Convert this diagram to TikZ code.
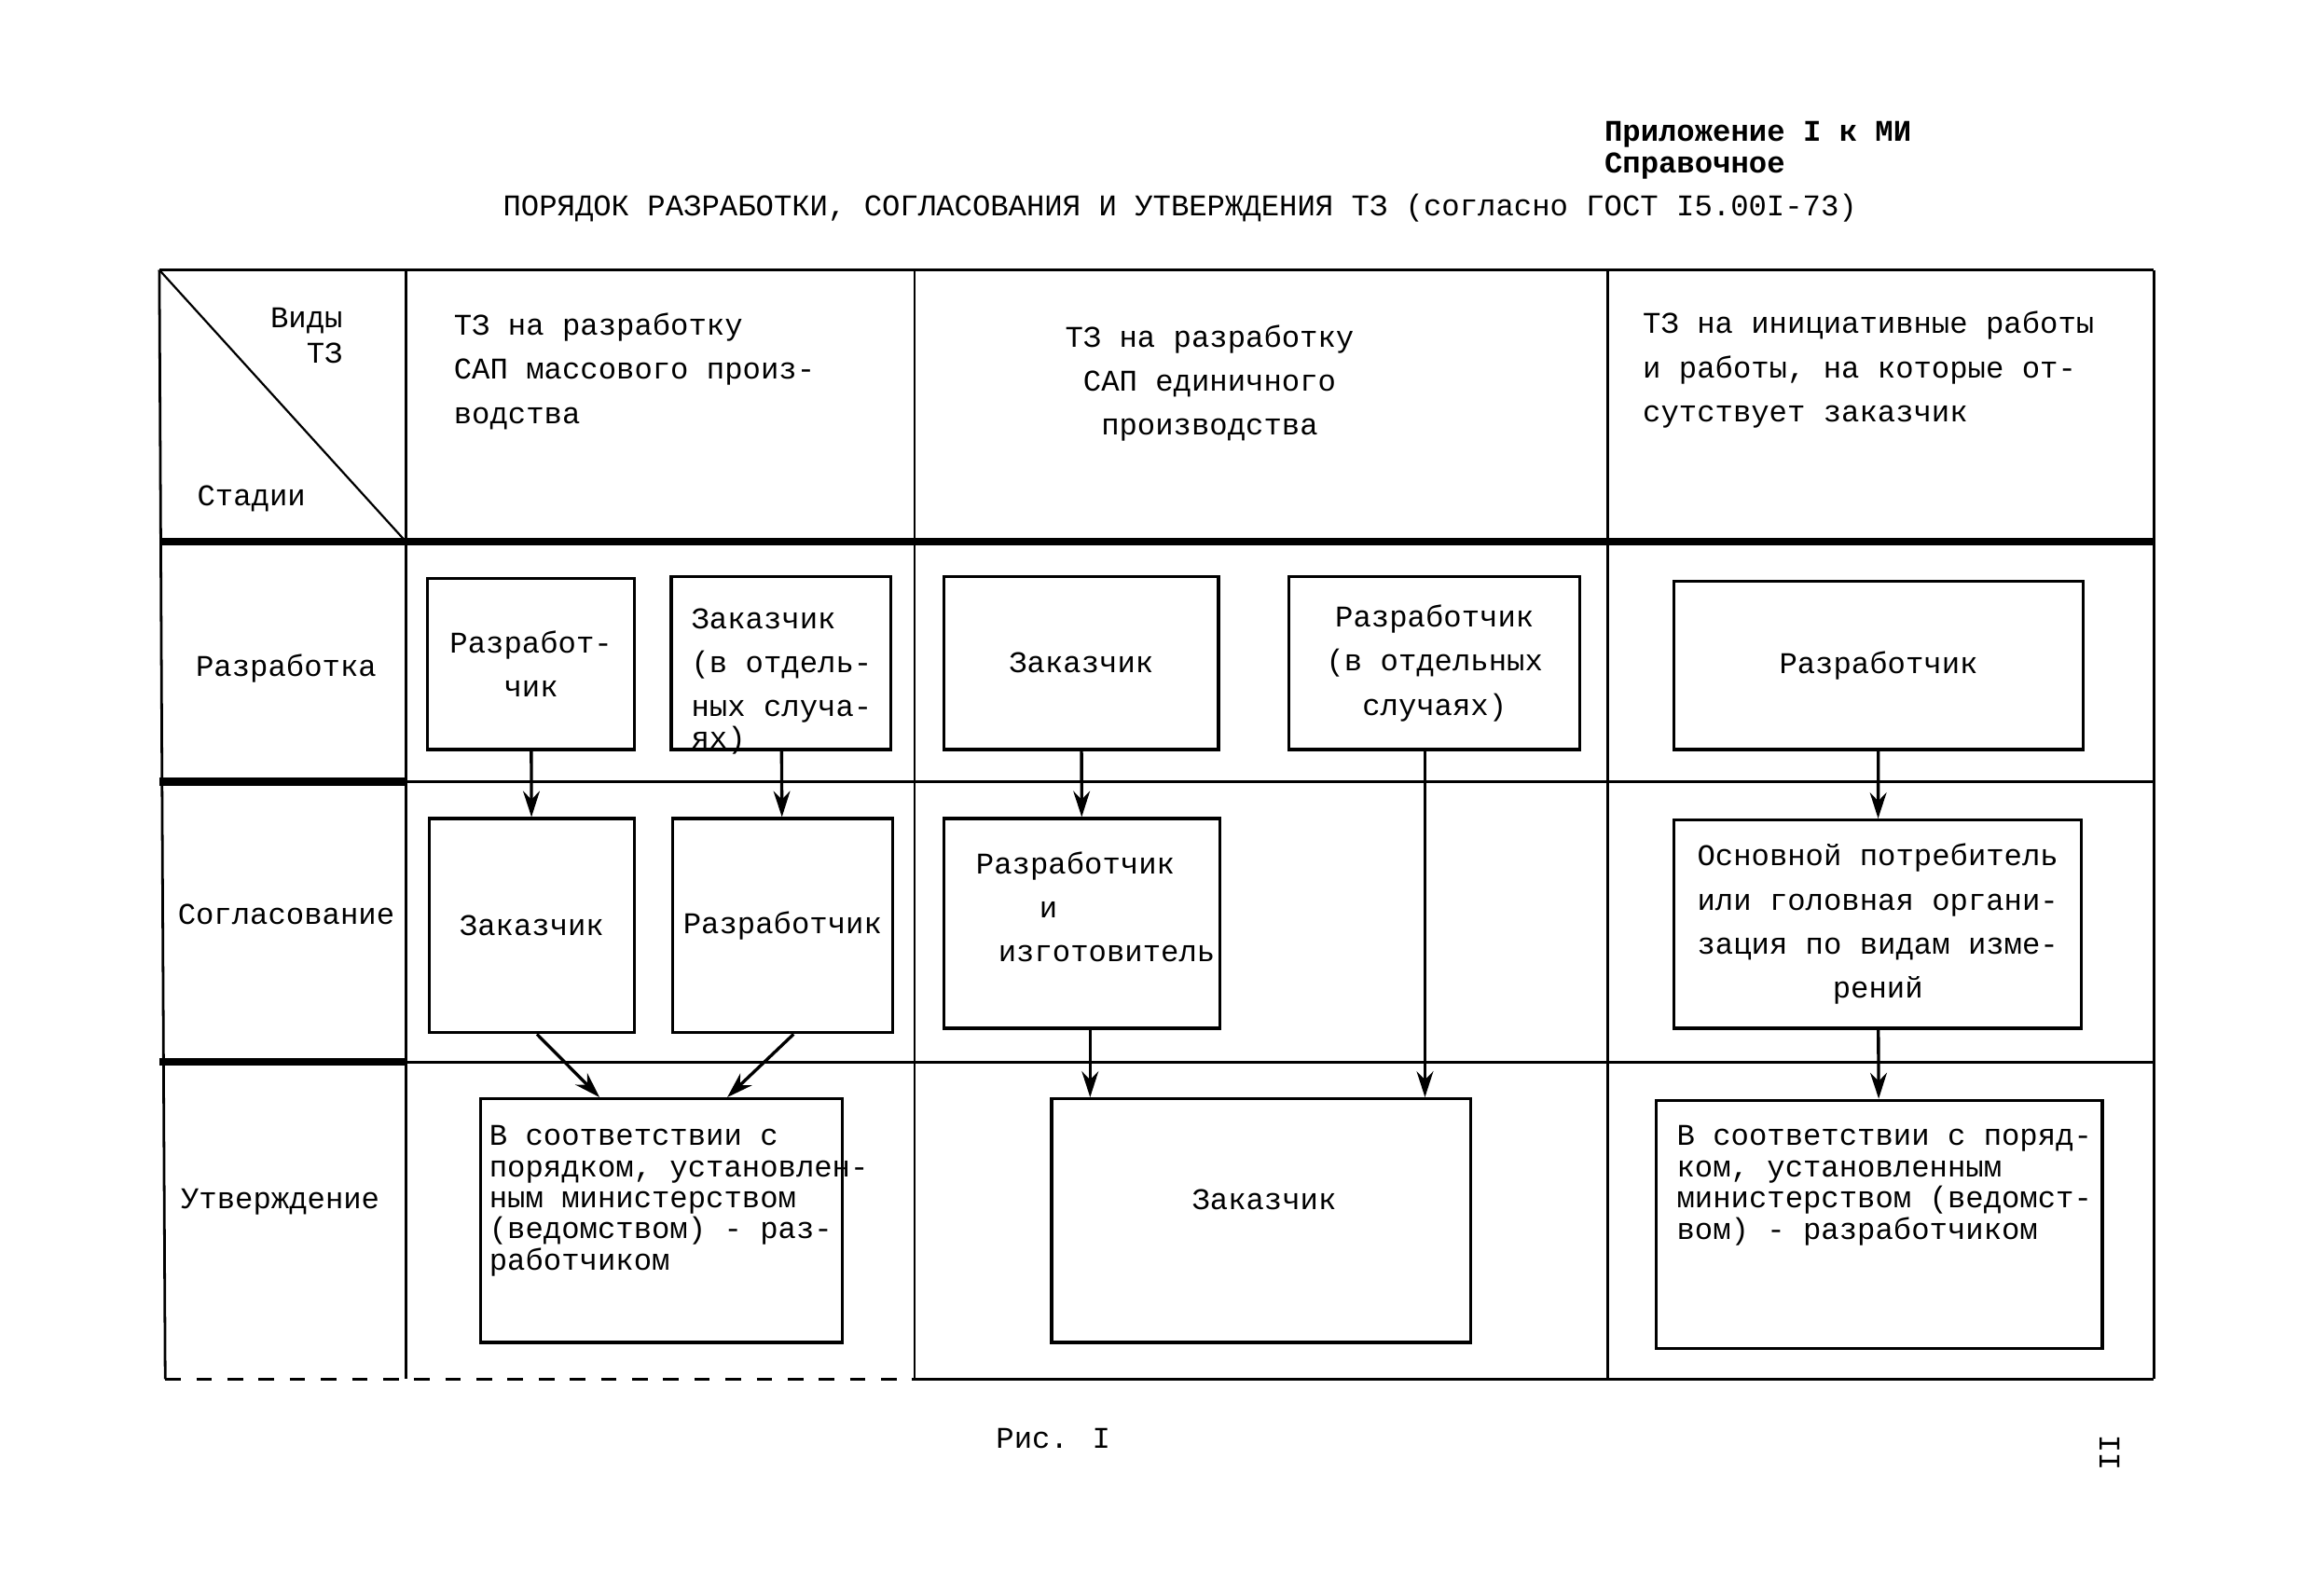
\documentclass[tikz,border=0pt]{standalone}
\usepackage{fontspec}
\setmainfont{Liberation Mono}
\usetikzlibrary{arrows.meta,calc}

\tikzset{
  ramka/.style={draw, line width=0.6pt, inner sep=0pt, align=center},
  tekst/.style={inner sep=0pt, align=left},
  strelka/.style={-{Stealth[length=5pt,width=3.2pt]}, line width=0.6pt},
  setka/.style={line width=0.5pt},
  zhir/.style={line width=1.5pt},
  plotno/.style={font=\fontsize{5.8pt}{6pt}\selectfont}
}

\begin{document}
\begin{tikzpicture}[x=0.01cm, y=-0.01cm, font=\fontsize{5.8pt}{8.5pt}\selectfont]
  \useasboundingbox (0,0) rectangle (1568,1082);

  % shapka
  \node[tekst, anchor=base west, font=\fontsize{5.8pt}{6pt}\selectfont\bfseries] (prilozh) at (1087,117) {Приложение I к МИ\\Справочное};
  \node[anchor=base, inner sep=0pt] (zagolovok) at (800,146) {ПОРЯДОК РАЗРАБОТКИ, СОГЛАСОВАНИЯ И УТВЕРЖДЕНИЯ ТЗ (согласно ГОСТ I5.00I-73)};

  % tablica
  \draw[setka] (108,183) -- (1460,183);
  \draw[setka] (108,183) -- (112,935);
  \draw[setka] (275,183) -- (275,935);
  \draw[setka] (620,183) -- (620,935);
  \draw[setka] (1090,183) -- (1090,935);
  \draw[setka] (1460,183) -- (1460,935);
  \draw[zhir] (108,367) -- (1460,367);
  \draw[zhir] (108,530) -- (275,530);
  \draw[setka] (275,530) -- (1460,530);
  \draw[zhir] (108,720) -- (275,720);
  \draw[setka] (275,720) -- (1460,720);
  \draw[setka, dashed] (112,935) -- (620,935);
  \draw[setka] (620,935) -- (1460,935);
  \draw[line width=0.4pt] (108,183) -- (275,367);

  % golovka
  \node[inner sep=0pt, align=right, anchor=base east] (vidy) at (233,246) {Виды\\[-1.7pt]ТЗ};
  \node[inner sep=0pt, anchor=base west] (stadii) at (133,343) {Стадии};
  \node[tekst, anchor=base west] (tz1) at (307,287) {ТЗ на разработку\\САП массового произ-\\водства};
  \node[inner sep=0pt, align=center, anchor=base] (tz2) at (820,295) {ТЗ на разработку\\САП единичного\\производства};
  \node[tekst, anchor=base west] (tz3) at (1113,286) {ТЗ на инициативные работы\\и работы, на которые от-\\сутствует заказчик};

  % stadii
  \node (razrab) at (194,453) {Разработка};
  \node (soglas) at (194,620) {Согласование};
  \node (utverzh) at (190,815) {Утверждение};

  % razrabotka
  \node[ramka, minimum width=1.40cm, minimum height=1.16cm] (a1) at (360,450) {Разработ-\\чик};
  \node[ramka, minimum width=1.49cm, minimum height=1.17cm] (a2) at (529.5,449.5) {};
  \node[tekst, anchor=base west] (a2t) at (468,507) {Заказчик\\(в отдель-\\ных случа-\\[-2.5pt]ях)};
  \node[ramka, minimum width=1.86cm, minimum height=1.17cm] (b1) at (733,449.5) {Заказчик};
  \node[ramka, minimum width=1.97cm, minimum height=1.17cm] (b2) at (972.5,449.5) {Разработчик\\(в отдельных\\случаях)};
  \node[ramka, minimum width=2.77cm, minimum height=1.14cm] (c1) at (1273.5,451) {Разработчик};

  % soglasovanie
  \node[ramka, minimum width=1.39cm, minimum height=1.45cm] (a3) at (360.5,627.5) {Заказчик};
  \node[ramka, minimum width=1.49cm, minimum height=1.45cm] (a4) at (530.5,627.5) {Разработчик};
  \node[ramka, minimum width=1.87cm, minimum height=1.42cm] (b3) at (733.5,626) {};
  \node[tekst, anchor=base west] (b3t) at (661,652) {Разработчик\\\hspace*{2.1em}и\\\hspace*{0.74em}изготовитель};
  \node[ramka, minimum width=2.76cm, minimum height=1.41cm] (c2) at (1273,626.5) {Основной потребитель\\или головная органи-\\зация по видам изме-\\рений};

  % utverzhdenie
  \node[ramka, minimum width=2.45cm, minimum height=1.65cm] (a5) at (448.5,827.5) {};
  \node[tekst, plotno, anchor=base west] (a5t) at (331,861) {В соответствии с\\порядком, установлен-\\ным министерством\\(ведомством) - раз-\\работчиком};
  \node[ramka, minimum width=2.84cm, minimum height=1.65cm] (b4) at (855,827.5) {};
  \node[inner sep=0pt] (b4t) at (857,813) {Заказчик};
  \node[ramka, minimum width=3.02cm, minimum height=1.68cm] (c3) at (1274,830) {};
  \node[tekst, plotno, anchor=base west] (c3t) at (1136,840) {В соответствии с поряд-\\ком, установленным\\министерством (ведомст-\\вом) - разработчиком};

  % strelki
  \draw[strelka] (a1) -- (a3);
  \draw[strelka] (a2) -- (a4);
  \draw[strelka] (b1) -- (b3);
  \draw[strelka] ([xshift=-0.065cm]b2.south) -- ([xshift=-0.065cm]b2.south |- b4.north);
  \draw[strelka] ([xshift=0.055cm]b3.south) -- ([xshift=0.055cm]b3.south |- b4.north);
  \draw[strelka] ([xshift=0.035cm]a3.south) -- ($(a5.north west)!0.33!(a5.north east)$);
  \draw[strelka] ([xshift=0.075cm]a4.south) -- ($(a5.north west)!0.68!(a5.north east)$);
  \draw[strelka] (c1) -- (c2);
  \draw[strelka] (c2) -- (c3);

  % podpis
  \node[anchor=base, inner sep=0pt] (ris) at (714,982) {Рис. I};
  \node[rotate=90, inner sep=0pt] (nomer) at (1430,985) {II};
\end{tikzpicture}
\end{document}
